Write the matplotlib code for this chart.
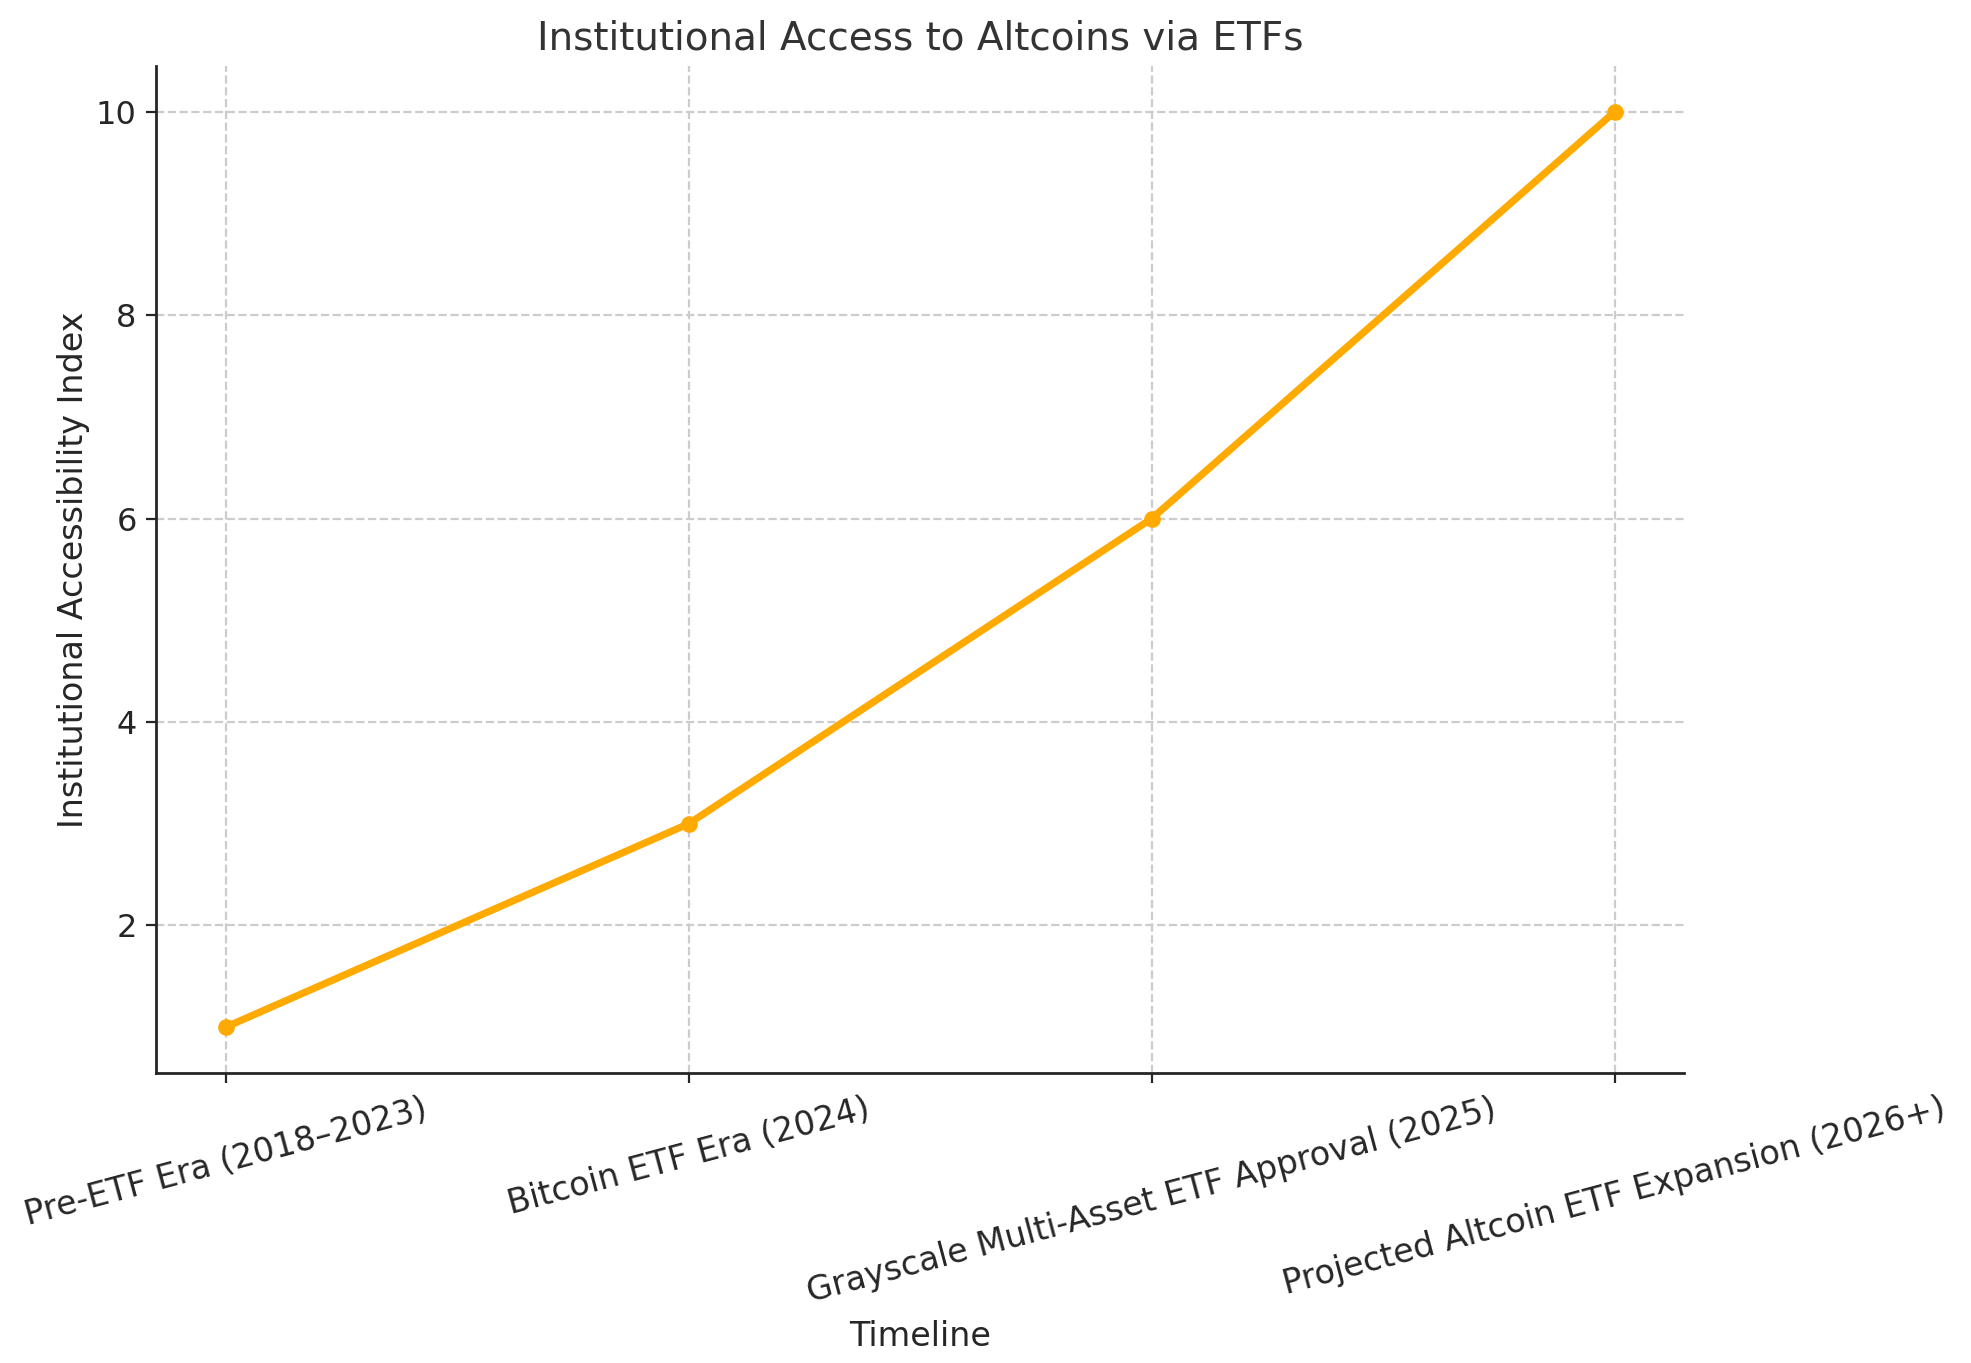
import matplotlib
matplotlib.use("Agg")
import matplotlib.pyplot as plt

categories = ["Pre-ETF Era (2018–2023)", "Bitcoin ETF Era (2024)",
              "Grayscale Multi-Asset ETF Approval (2025)",
              "Projected Altcoin ETF Expansion (2026+)"]
values = [1, 3, 6, 10]

plt.rcParams['font.family'] = ['DejaVu Sans']
text_color = '#262626'

fig = plt.figure(figsize=(9.855, 6.815), dpi=200)
ax = fig.add_axes([0.0792, 0.2128, 0.8545 - 0.0792, 0.9516 - 0.2128])

x = list(range(len(categories)))
ax.plot(x, values, color='#FFAA00', linewidth=2.6, marker='o', markersize=5, zorder=3)
ax.set_xticks(x)
ax.set_xticklabels(categories, rotation=15, fontsize=12, color=text_color)
ax.set_yticks([2, 4, 6, 8, 10])
ax.tick_params(axis='y', labelsize=11.5, labelcolor=text_color, color=text_color)
ax.tick_params(axis='x', color=text_color)

ax.grid(True, linestyle='--', color='#cccccc', linewidth=0.8)
ax.set_axisbelow(True)
for s in ['top', 'right']:
    ax.spines[s].set_visible(False)
for s in ['left', 'bottom']:
    ax.spines[s].set_color(text_color)
    ax.spines[s].set_linewidth(1.0)

ax.set_title("Institutional Access to Altcoins via ETFs", fontsize=14, color='#333333', pad=6)
ax.set_xlabel("Timeline", fontsize=12, color=text_color)
ax.set_ylabel("Institutional Accessibility Index", fontsize=12, color=text_color, labelpad=2)

fig.savefig("out.png", dpi=200)
